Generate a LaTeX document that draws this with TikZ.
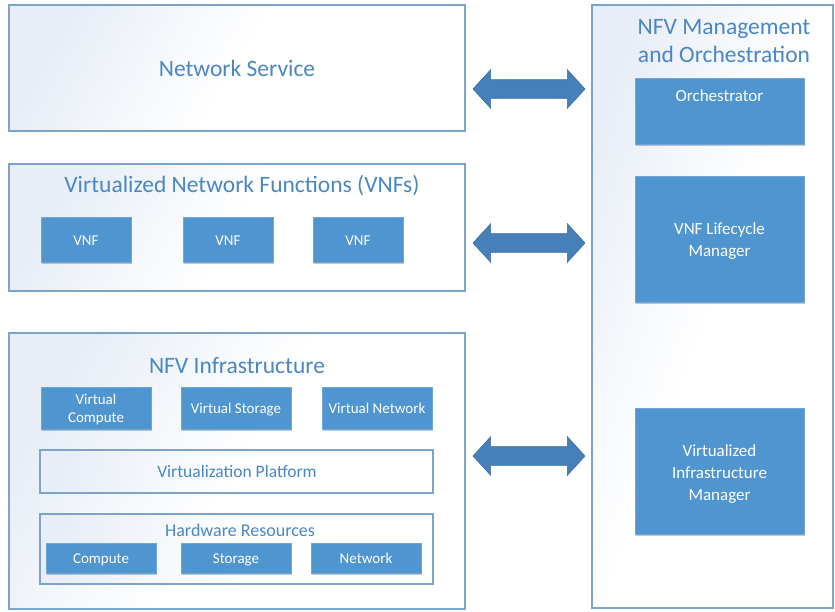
\documentclass[tikz,border=0pt]{standalone}
\usepackage{fontspec}
\setmainfont{Carlito}
\usetikzlibrary{shapes.arrows,shadows,positioning}
\definecolor{boxline}{HTML}{7CA3CC}
\definecolor{titlecol}{HTML}{4A87C3}
\definecolor{bluefill}{HTML}{4F95D0}
\definecolor{blueline}{HTML}{6FA6D8}
\definecolor{arrowfill}{HTML}{467FBA}
\definecolor{arrowline}{HTML}{3B6EA3}
\definecolor{tint}{HTML}{E8EEF7}
\tikzset{
  panel/.style={draw=boxline, line width=1.1pt, left color=tint, right color=white, middle color=white, shading angle=60},
  bluebox/.style={draw=blueline, line width=0.6pt, fill=bluefill,
     drop shadow={shadow xshift=1.2pt, shadow yshift=-1.5pt, opacity=0.22, fill=black}},
  boxtext/.style={text=white, font=\fontsize{15}{18}\selectfont, align=center},
  bigtitle/.style={text=titlecol, font=\fontsize{23.5}{28}\selectfont, align=center},
  midtitle/.style={text=titlecol, font=\fontsize{18}{22}\selectfont, align=center},
  mgrtext/.style={text=white, font=\fontsize{17}{22}\selectfont, align=center},
  dblarrow/.style={double arrow, draw=arrowline, line width=0.6pt, fill=arrowfill,
     minimum height=112pt, double arrow head extend=10pt,
     inner xsep=0pt, inner ysep=9pt, double arrow tip angle=95},
}
\begin{document}
\begin{tikzpicture}[x=1pt,y=-1pt]
\useasboundingbox (0,0) rectangle (835,611);
% panels
\path[panel] (9,5) rectangle (465,131);
\node[bigtitle] (ns) at (237,68) {Network Service};

\path[panel] (9,164) rectangle (465,291);
\node[bigtitle] (vnft) at (242,186) {Virtualized Network Functions (VNFs)};
\node[bluebox, minimum width=90pt, minimum height=45pt] (vnf1) at (86,239.5) {};
\node[boxtext] at ([yshift=-1pt]vnf1) {VNF};
\node[bluebox, minimum width=90pt, minimum height=45pt] (vnf2) at (228,239.5) {};
\node[boxtext] at ([yshift=-1pt]vnf2) {VNF};
\node[bluebox, minimum width=90pt, minimum height=45pt] (vnf3) at (358,239.5) {};
\node[boxtext] at ([yshift=-1pt]vnf3) {VNF};

\path[panel] (9,333) rectangle (465,609);
\node[bigtitle] (nfvi) at (237,366) {NFV Infrastructure};
\node[bluebox, minimum width=110pt, minimum height=42pt] (vc) at (96,408) {};
\node[boxtext] at ([yshift=-1pt]vc) {Virtual\\Compute};
\node[bluebox, minimum width=110pt, minimum height=42pt] (vs) at (236,408) {};
\node[boxtext] at ([yshift=-2pt]vs) {Virtual Storage};
\node[bluebox, minimum width=110pt, minimum height=42pt] (vn) at (377,408) {};
\node[boxtext] at (vn) {Virtual Network};

\path[panel, shading angle=80] (40,450) rectangle (433,493);
\node[midtitle, font=\fontsize{17.5}{22}\selectfont] (vp) at (237,471.5) {Virtualization Platform};

\path[panel, shading angle=80] (40,514) rectangle (433,584);
\node[midtitle] (hr) at (240,530) {Hardware Resources};
\node[bluebox, minimum width=110pt, minimum height=30pt] (hc) at (101,558) {};
\node[boxtext] at ([yshift=-2pt]hc) {Compute};
\node[bluebox, minimum width=110pt, minimum height=30pt] (hs) at (236,558) {};
\node[boxtext] at ([yshift=-2pt]hs) {Storage};
\node[bluebox, minimum width=110pt, minimum height=30pt] (hn) at (366,558) {};
\node[boxtext] at (hn) {Network};

% right panel
\path[panel, shading angle=70] (592,5) rectangle (833,608);
\node[bigtitle] (mano) at (724,41) {NFV Management\\and Orchestration};
\node[bluebox, minimum width=169pt, minimum height=66pt] (orch) at (719.5,111) {};
\node[mgrtext] at (719.5,96) {Orchestrator};
\node[bluebox, minimum width=169pt, minimum height=126pt] (vnfm) at (719.5,239) {};
\node[mgrtext] at ([yshift=-2pt]vnfm) {VNF Lifecycle\\Manager};
\node[bluebox, minimum width=169pt, minimum height=126pt] (vim) at (719.5,471) {};
\node[mgrtext] at ([yshift=-3pt]vim) {Virtualized\\Infrastructure\\Manager};

% arrows
\node[dblarrow] (a1) at (529,89) {};
\node[dblarrow] (a2) at (529,243) {};
\node[dblarrow] (a3) at (529,456) {};
\end{tikzpicture}
\end{document}
